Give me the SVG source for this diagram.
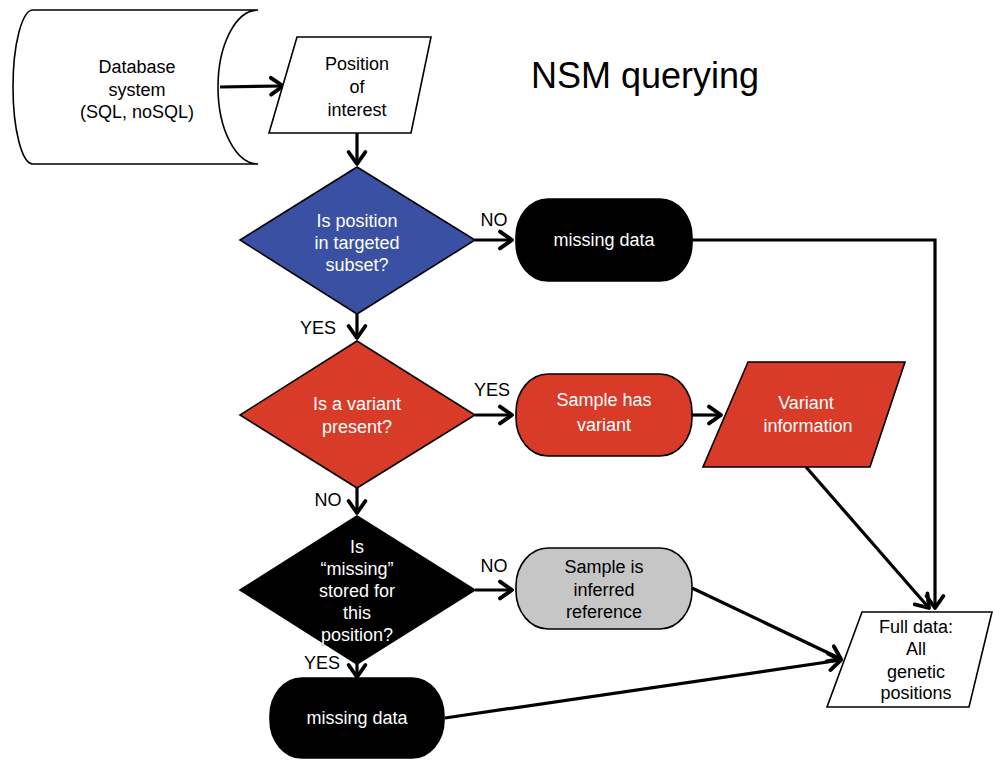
<svg xmlns="http://www.w3.org/2000/svg" width="993" height="761" viewBox="0 0 993 761">
<defs>
<marker id="arr" markerUnits="userSpaceOnUse" markerWidth="24" markerHeight="24" viewBox="-14 -10 18 20" refX="0" refY="0" orient="auto">
<path d="M-10,-7 L0,0 L-10,7" fill="none" stroke="#000" stroke-width="3.2" stroke-linecap="round" stroke-linejoin="round"/>
</marker>
<style>
.t{font-family:"Liberation Sans",Arial,sans-serif;font-size:18px;text-anchor:middle}
.w{fill:#fff}
.k{fill:#000}
.sh{stroke:#000;stroke-width:1.6}
.c{fill:none;stroke:#000;stroke-width:3.2;marker-end:url(#arr)}
.cn{fill:none;stroke:#000;stroke-width:3.2}
</style>
</defs>
<rect width="993" height="761" fill="#fff"/>

<text x="645" y="88" style="font-family:'Liberation Sans',Arial,sans-serif;font-size:36px;text-anchor:middle" fill="#000">NSM querying</text>

<g id="connectors">
<path class="c" d="M220,87 L283,86"/>
<path class="c" d="M357,133 L357,164"/>
<path class="c" d="M475,240 L512,240"/>
<path class="c" d="M692,240 L935,240 L935,608"/>
<path class="c" d="M357,314 L357,338"/>
<path class="c" d="M475,415 L512,415"/>
<path class="c" d="M692,415 L721,415"/>
<path class="c" d="M806,467 L929,608"/>
<path class="c" d="M357,488 L357,513"/>
<path class="c" d="M475,590 L512,590"/>
<path class="c" d="M692,588 L841,659"/>
<path class="c" d="M357,664 L357,677"/>
<path class="c" d="M445,718 L841,660"/>
</g>

<g id="database">
<path class="sh" fill="#fff" d="M33,10 L258,10 A40,77 0 0 0 258,164 L33,164 A20,77 0 0 1 33,10 Z"/>
<text class="t k" x="137" y="73">Database</text>
<text class="t k" x="137" y="96">system</text>
<text class="t k" x="137" y="118">(SQL, noSQL)</text>
</g>

<g id="position">
<polygon class="sh" fill="#fff" points="297,37 431,37 411,133 269,133"/>
<text class="t k" x="357" y="70">Position</text>
<text class="t k" x="357" y="93">of</text>
<text class="t k" x="357" y="116">interest</text>
</g>

<g id="decision1">
<polygon class="sh" fill="#3a51a3" points="357,167 475,240 357,314 240,240"/>
<text class="t w" x="357" y="227">Is position</text>
<text class="t w" x="357" y="249">in targeted</text>
<text class="t w" x="357" y="271">subset?</text>
</g>

<g id="missing1">
<rect class="sh" x="516" y="199" width="176" height="82" rx="32" ry="38" fill="#000"/>
<text class="t w" x="604" y="246">missing data</text>
</g>

<g id="decision2">
<polygon class="sh" fill="#d83b27" points="357,341 475,415 357,488 240,415"/>
<text class="t w" x="357" y="410">Is a variant</text>
<text class="t w" x="357" y="433">present?</text>
</g>

<g id="sample-variant">
<rect class="sh" x="516" y="374" width="176" height="82" rx="32" ry="38" fill="#d83b27"/>
<text class="t w" x="604" y="406">Sample has</text>
<text class="t w" x="604" y="431">variant</text>
</g>

<g id="variant-info">
<polygon class="sh" fill="#d83b27" points="748,362 905,362 870,467 703,467"/>
<text class="t w" x="806" y="409">Variant</text>
<text class="t w" x="808" y="432">information</text>
</g>

<g id="decision3">
<polygon class="sh" fill="#000" points="357,516 475,590 357,664 240,590"/>
<text class="t w" x="357" y="553">Is</text>
<text class="t w" x="357" y="575">“missing”</text>
<text class="t w" x="357" y="597">stored for</text>
<text class="t w" x="357" y="619">this</text>
<text class="t w" x="357" y="641" stroke="#000" stroke-width="0.6" paint-order="stroke">position?</text>
</g>

<g id="inferred">
<rect class="sh" x="516" y="548" width="176" height="81" rx="32" ry="38" fill="#c6c6c6"/>
<text class="t k" x="604" y="573">Sample is</text>
<text class="t k" x="604" y="596">inferred</text>
<text class="t k" x="604" y="618">reference</text>
</g>

<g id="missing2">
<rect class="sh" x="270" y="678" width="174" height="80" rx="32" ry="38" fill="#000"/>
<text class="t w" x="357" y="724">missing data</text>
</g>

<g id="full-data">
<polygon class="sh" fill="#fff" points="862,612 992,612 969,707 827,707"/>
<text class="t k" x="916" y="633">Full data:</text>
<text class="t k" x="916" y="655">All</text>
<text class="t k" x="916" y="678">genetic</text>
<text class="t k" x="916" y="699">positions</text>
</g>

<g id="labels">
<text class="t k" x="494" y="226">NO</text>
<text class="t k" x="318" y="334">YES</text>
<text class="t k" x="492" y="396">YES</text>
<text class="t k" x="328" y="506">NO</text>
<text class="t k" x="494" y="572">NO</text>
<text class="t k" x="322" y="669">YES</text>
</g>
</svg>
